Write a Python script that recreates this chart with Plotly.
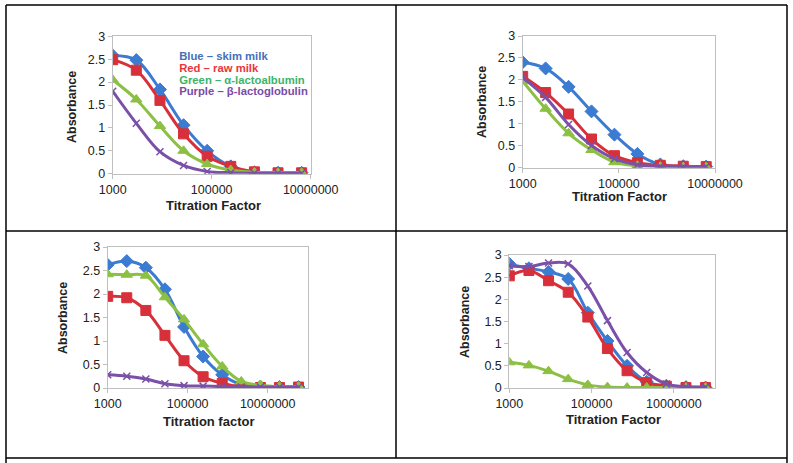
import plotly.graph_objects as go

W, H = 793, 463

# Dilution (titration) factors
x9 = [1000, 3000, 9000, 27000, 81000, 243000, 729000, 2187000, 6561000]
x11 = [1000, 3000, 9000, 27000, 81000, 243000, 729000, 2187000, 6561000, 19683000, 59049000]

# Panel 1 (top-left)
p1_blue = [2.58, 2.48, 1.84, 1.06, 0.50, 0.16, 0.03, 0.02, 0.02]
p1_red = [2.49, 2.26, 1.60, 0.87, 0.38, 0.16, 0.04, 0.02, 0.02]
p1_green = [2.05, 1.62, 1.04, 0.50, 0.21, 0.08, 0.03, 0.02, 0.02]
p1_purple = [1.80, 1.10, 0.48, 0.18, 0.05, 0.02, 0.01, 0.01, 0.01]

# Panel 2 (top-right)
p2_blue = [2.40, 2.26, 1.84, 1.28, 0.75, 0.31, 0.07, 0.03, 0.02]
p2_red = [2.08, 1.71, 1.22, 0.65, 0.27, 0.11, 0.05, 0.03, 0.02]
p2_green = [1.97, 1.34, 0.78, 0.40, 0.12, 0.04, 0.02, 0.01, 0.01]
p2_purple = [2.05, 1.60, 0.98, 0.50, 0.20, 0.06, 0.03, 0.02, 0.02]

# Panel 3 (bottom-left)
p3_blue = [2.62, 2.70, 2.56, 2.10, 1.30, 0.67, 0.28, 0.07, 0.03, 0.02, 0.02]
p3_red = [1.95, 1.92, 1.65, 1.12, 0.58, 0.24, 0.10, 0.02, 0.01, 0.01, 0.02]
p3_green = [2.42, 2.41, 2.39, 1.93, 1.46, 0.93, 0.46, 0.14, 0.06, 0.03, 0.03]
p3_purple = [0.28, 0.25, 0.19, 0.09, 0.05, 0.04, 0.03, 0.02, 0.02, 0.02, 0.02]

# Panel 4 (bottom-right)
p4_blue = [2.80, 2.70, 2.62, 2.46, 1.70, 1.06, 0.50, 0.14, 0.05, 0.02, 0.01]
p4_red = [2.53, 2.65, 2.42, 2.16, 1.60, 0.89, 0.39, 0.12, 0.04, 0.01, 0.01]
p4_green = [0.58, 0.51, 0.38, 0.20, 0.07, 0.02, 0.01, 0.01, 0.01, 0.01, 0.01]
p4_purple = [2.76, 2.74, 2.82, 2.80, 2.30, 1.52, 0.80, 0.35, 0.09, 0.03, 0.02]

x_tickvals = [1000, 100000, 10000000]
x_ticktext = ["1000", "100000", "10000000"]

# In-chart colour key of panel 1 (text, anchored in panel-1 data coordinates)
legend_lines = ["Blue – skim milk", "Red – raw milk", "Green – α-lactoalbumin", "Purple – β-lactoglobulin"]
legend_x = [22000, 22000, 22000, 22000]
legend_y = [2.55, 2.29, 2.03, 1.775]

C_BLUE = "#3C7BD2"
C_RED = "#D8303A"
C_GREEN = "#8CC043"
C_PURPLE = "#7A50A8"
T_COLORS = ["#4570B8", "#E8363C", "#3CB46A", "#7A4CA6"]

FONT = "Arial, Liberation Sans, sans-serif"


def fx(px):
    return px / W


def fy(py):
    return 1 - py / H


panels = [
    (x9, [p1_blue, p1_red, p1_green, p1_purple], (112.7, 310.7), (36.3, 173.7), [3, 7]),
    (x9, [p2_blue, p2_red, p2_green, p2_purple], (522.7, 715.0), (36.0, 167.5), [3, 7]),
    (x11, [p3_blue, p3_red, p3_green, p3_purple], (107.7, 307.7), (247.0, 388.0), [3, 8]),
    (x11, [p4_blue, p4_red, p4_green, p4_purple], (509.3, 715.0), (255.0, 388.0), [3, 8]),
]

styles = [
    dict(color=C_BLUE, symbol="diamond", size=10),
    dict(color=C_RED, symbol="square", size=10),
    dict(color=C_GREEN, symbol="triangle-up", size=10),
    dict(color=C_PURPLE, symbol="x-thin", size=7),
]

fig = go.Figure()
layout = dict(
    template="none",
    width=W, height=H, autosize=False,
    margin=dict(l=0, r=0, t=0, b=0, pad=0, autoexpand=False),
    paper_bgcolor="white", plot_bgcolor="white",
    showlegend=False,
    font=dict(family=FONT, color="#222222"),
)

for i, (xs, series, xd, yd, xr) in enumerate(panels):
    n = "" if i == 0 else str(i + 1)
    for s, st in zip(series, styles):
        if st["symbol"] == "x-thin":
            marker = dict(symbol="x-thin", size=st["size"], line=dict(color=st["color"], width=1.5))
        else:
            marker = dict(symbol=st["symbol"], size=st["size"], color=st["color"],
                          line=dict(color=st["color"], width=1))
        fig.add_trace(go.Scatter(
            x=xs, y=s, mode="lines+markers",
            line=dict(color=st["color"], width=3, shape="spline", smoothing=1.0),
            marker=marker,
            xaxis="x" + n, yaxis="y" + n, cliponaxis=True,
        ))
    layout["xaxis" + n] = dict(
        type="log", range=xr, domain=[fx(xd[0]), fx(xd[1])], anchor="y" + n,
        tickvals=x_tickvals, ticktext=x_ticktext, automargin=False,
        showgrid=False, zeroline=False, showline=True, mirror=True,
        linecolor="#BFBFBF", linewidth=1,
        ticks="outside", ticklen=4, tickcolor="#BFBFBF",
        tickfont=dict(size=12.5, family=FONT, color="#222222"),
        fixedrange=True,
    )
    layout["yaxis" + n] = dict(
        range=[0, 3], domain=[fy(yd[1]), fy(yd[0])], anchor="x" + n,
        dtick=0.5, tick0=0, automargin=False,
        showgrid=False, zeroline=False, showline=True, mirror=True,
        linecolor="#BFBFBF", linewidth=1,
        ticks="outside", ticklen=4, tickcolor="#BFBFBF",
        tickfont=dict(size=12.5, family=FONT, color="#222222"),
        fixedrange=True,
    )

# Colour key as clipped text inside panel 1
fig.add_trace(go.Scatter(
    x=legend_x, y=legend_y, mode="text",
    text=["<b>" + t + "</b>" for t in legend_lines],
    textposition="middle right",
    textfont=dict(size=11.3, family=FONT, color=T_COLORS),
    xaxis="x", yaxis="y", cliponaxis=True, hoverinfo="skip",
))

annotations = []
ylabels = [(72, 107), (482, 102), (63, 318), (465, 322)]
xlabels = [(213, 205, "Titration Factor"), (619, 197, "Titration Factor"),
           (209, 421, "Titration factor"), (613, 419, "Titration Factor")]
for (ax, ay) in ylabels:
    annotations.append(dict(
        x=fx(ax), y=fy(ay), xref="paper", yref="paper", text="<b>Absorbance</b>",
        showarrow=False, textangle=-90, xanchor="center", yanchor="middle",
        font=dict(size=12.5, family=FONT, color="#222222"),
    ))
for (ax, ay, t) in xlabels:
    annotations.append(dict(
        x=fx(ax), y=fy(ay), xref="paper", yref="paper", text="<b>" + t + "</b>",
        showarrow=False, xanchor="center", yanchor="middle",
        font=dict(size=13, family=FONT, color="#222222"),
    ))
layout["annotations"] = annotations

shapes = []
def hline(y, x0, x1):
    shapes.append(dict(type="line", xref="paper", yref="paper", x0=fx(x0), x1=fx(x1),
                       y0=fy(y), y1=fy(y), line=dict(color="black", width=1.5)))
def vline(x, y0, y1):
    shapes.append(dict(type="line", xref="paper", yref="paper", x0=fx(x), x1=fx(x),
                       y0=fy(y0), y1=fy(y1), line=dict(color="black", width=1.5)))
hline(5, 6, 787)
hline(231, 6, 787)
hline(458, 6, 787)
vline(6, 5, 463)
vline(787, 5, 463)
vline(396, 5, 458)
layout["shapes"] = shapes

fig.update_layout(**layout)
fig.write_html(
    "out.html",
    config={"responsive": False, "displayModeBar": False},
    post_script="document.body.style.margin='0';document.body.style.padding='0';document.body.style.overflow='hidden';",
)
